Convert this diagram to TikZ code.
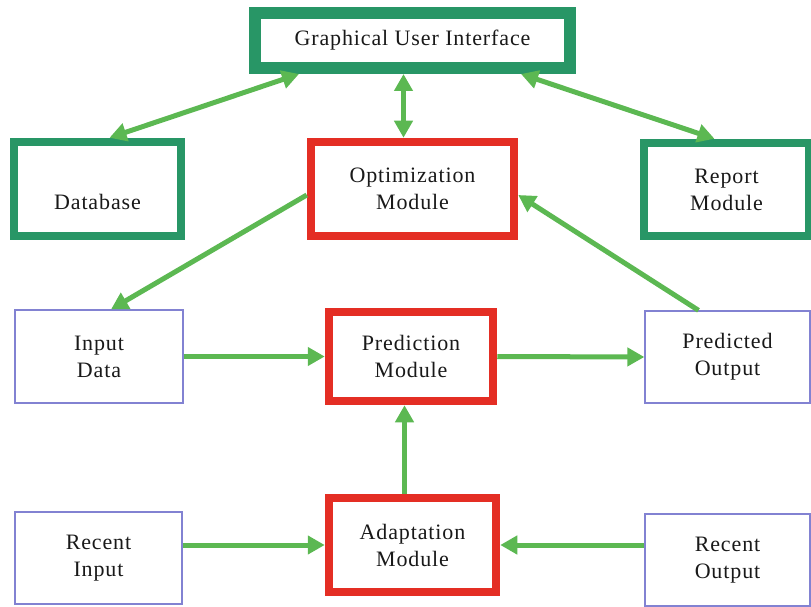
\documentclass[tikz,border=0pt]{standalone}
\usepackage{fontspec}
\setmainfont{Liberation Serif}[LetterSpace=4]
\usetikzlibrary{arrows.meta}

\definecolor{boxgreen}{RGB}{40,150,102}
\definecolor{boxred}{RGB}{228,46,36}
\definecolor{boxblue}{RGB}{130,130,210}
\definecolor{flowgreen}{RGB}{92,184,82}

\tikzset{
  x=1pt, y=-1pt,
  every node/.style={font=\fontsize{22}{27}\selectfont, align=center, text=black!90, inner sep=0pt},
  greenbox/.style={draw=boxgreen, line width=8.5pt, fill=white},
  guibox/.style={draw=boxgreen, line width=12pt, fill=white},
  redbox/.style={draw=boxred, line width=8.5pt, fill=white},
  thinbox/.style={draw=boxblue, line width=1.3pt, fill=white},
  flow/.style={draw=flowgreen, line width=5pt,
    -{Triangle[length=17pt,width=18pt]}},
  biflow/.style={draw=flowgreen, line width=5pt,
    {Triangle[length=17pt,width=18pt]}-{Triangle[length=17pt,width=18pt]}}
}

\begin{document}
\begin{tikzpicture}
\useasboundingbox (0,0) rectangle (811,607);

% top row
\node[guibox, minimum width=315pt, minimum height=55pt] (gui) at (412.5,40.5) {Graphical User Interface};

% second row
\node[greenbox, minimum width=167pt, minimum height=94pt] (db) at (97.5,189) {\vphantom{X}\\Database};
\node[redbox, minimum width=203pt, minimum height=94pt] (opt) at (412.5,189) {Optimization\\Module};
\node[greenbox, minimum width=165pt, minimum height=93pt] (rep) at (726.5,189.5) {Report\\Module};

% third row
\node[thinbox, minimum width=168pt, minimum height=93pt] (inp) at (99,356.5) {Input\\Data};
\node[redbox, minimum width=164pt, minimum height=89pt] (pred) at (411,356.5) {Prediction\\Module};
\node[thinbox, minimum width=165pt, minimum height=92pt] (pout) at (727.5,357) {Predicted\\Output};

% bottom row
\node[thinbox, minimum width=167pt, minimum height=92pt] (rin) at (98.5,558) {Recent\\Input};
\node[redbox, minimum width=167pt, minimum height=94pt] (adapt) at (412.5,545) {Adaptation\\Module};
\node[thinbox, minimum width=165pt, minimum height=92pt] (rout) at (727.5,560) {Recent\\Output};

% connectors around the interface
\draw[biflow] ([xshift=50pt]gui.south west) -- ([xshift=12pt]db.north);
\draw[biflow] ([xshift=-9pt]opt.north |- gui.south) -- ([xshift=-9pt]opt.north);
\draw[biflow] ([xshift=-55pt]gui.south east) -- ([xshift=-12pt]rep.north);

% optimisation loop
\draw[flow] ([yshift=-6pt]opt.west) -- ([xshift=12pt]inp.north);
\draw[flow] ([xshift=-29pt]pout.north) -- ([yshift=-6pt]opt.east);

% prediction flow
\draw[flow] (inp.east) -- (pred.west);
\draw[flow] (pred.east) -- (pout.west);
\draw[flow] ([xshift=-8pt]adapt.north) -- ([xshift=-8pt]adapt.north |- pred.south);

% adaptation inputs
\draw[flow] (rin.east |- adapt.west) -- (adapt.west);
\draw[flow] (rout.west |- adapt.east) -- (adapt.east);
\end{tikzpicture}
\end{document}
